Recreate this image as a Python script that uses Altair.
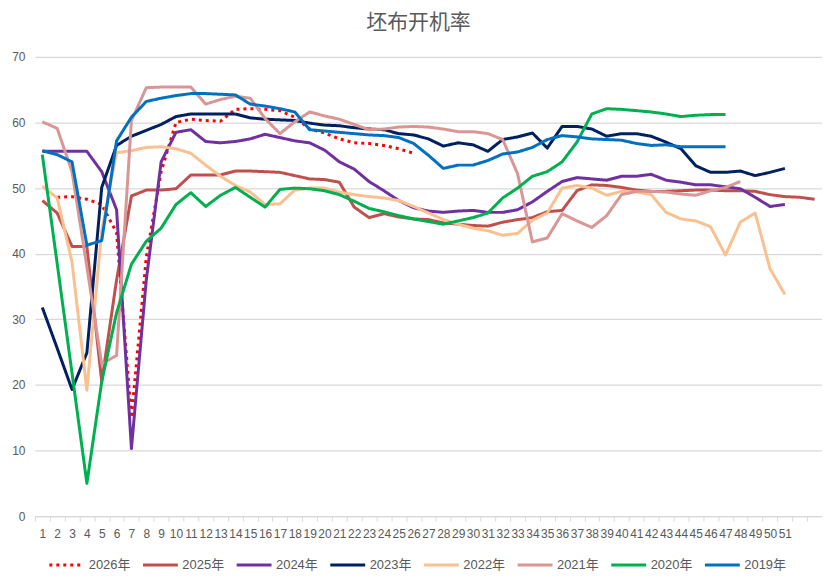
import altair as alt
import pandas as pd

weeks = [str(i) for i in range(1, 54)]
series_names = ["2026年", "2025年", "2024年", "2023年", "2022年", "2021年", "2020年", "2019年"]
colors = ["#FF0000", "#C0504D", "#7030A0", "#002060", "#FAC090", "#D99694", "#00B050", "#0070C0"]

# first week index of each series
start_week = {"2026年": 2, "2025年": 1, "2024年": 1, "2023年": 1,
              "2022年": 1, "2021年": 1, "2020年": 1, "2019年": 1}

v2026 = [48.6, 48.7, 48.3, 47.5, 43.2, 15.0, 39.5, 52.5, 60.0, 60.5, 60.3, 60.2, 62.0,
         62.1, 62.0, 61.8, 60.8, 59.0, 58.4, 57.5, 56.9, 56.8, 56.5, 56.0, 55.3]
v2025 = [48.1, 46.2, 41.1, 41.1, 20.5, 36.0, 48.8, 49.7, 49.7, 49.9, 52.0, 52.0, 52.0,
         52.6, 52.6, 52.5, 52.4, 51.9, 51.4, 51.3, 50.9, 47.1, 45.5, 46.1, 45.6, 45.3,
         45.2, 44.7, 44.5, 44.3, 44.2, 44.8, 45.2, 45.5, 46.4, 46.6, 49.6, 50.5, 50.4,
         50.1, 49.7, 49.5, 49.5, 49.6, 49.7, 49.7, 49.6, 49.6, 49.5, 49.0, 48.7, 48.6, 48.3]
v2024 = [55.6, 55.6, 55.6, 55.6, 52.5, 46.7, 10.3, 36.0, 54.0, 58.5, 58.9, 57.1, 56.9,
         57.1, 57.5, 58.2, 57.7, 57.2, 56.9, 55.8, 54.0, 52.9, 51.0, 49.6, 48.1, 47.0,
         46.5, 46.3, 46.5, 46.6, 46.3, 46.3, 46.7, 47.9, 49.5, 51.0, 51.6, 51.4, 51.2,
         51.8, 51.8, 52.1, 51.2, 50.9, 50.5, 50.5, 50.2, 49.9, 48.6, 47.2, 47.5]
v2023 = [31.8, 25.6, 19.3, 24.9, 50.1, 56.5, 57.9, 58.8, 59.7, 60.9, 61.3, 61.3, 61.3,
         61.3, 60.7, 60.5, 60.4, 60.3, 59.9, 59.6, 59.5, 59.2, 59.0, 58.9, 58.3, 58.1,
         57.5, 56.4, 56.9, 56.6, 55.6, 57.4, 57.8, 58.4, 56.1, 59.4, 59.4, 59.0, 57.9,
         58.3, 58.3, 57.9, 57.0, 56.0, 53.4, 52.4, 52.4, 52.6, 51.9, 52.4, 53.0]
v2022 = [50.3, 48.5, 38.7, 19.2, 43.5, 55.4, 55.7, 56.2, 56.3, 56.0, 55.3, 53.5, 51.8,
         50.4, 49.4, 47.5, 47.6, 49.7, 50.0, 50.0, 49.4, 49.0, 48.7, 48.5, 48.1, 47.2,
         46.2, 45.2, 44.5, 43.9, 43.5, 42.8, 43.1, 45.1, 46.2, 50.0, 50.4, 50.0, 48.9,
         49.5, 49.4, 49.0, 46.3, 45.3, 45.0, 44.1, 39.8, 44.8, 46.2, 37.7, 33.8]
v2021 = [60.1, 59.1, 52.5, 38.0, 23.2, 24.5, 60.3, 65.3, 65.4, 65.4, 65.4, 62.8, 63.5,
         64.0, 63.7, 60.6, 58.3, 60.1, 61.6, 61.0, 60.5, 59.7, 58.9, 59.0, 59.3, 59.4,
         59.3, 59.0, 58.6, 58.6, 58.3, 57.4, 52.2, 41.8, 42.4, 46.1, 45.0, 44.0, 45.8,
         49.0, 49.5, 49.5, 49.4, 49.1, 48.9, 49.6, 50.1, 51.0]
v2020 = [55.1, 38.5, 21.8, 5.0, 20.5, 31.0, 38.4, 41.9, 43.9, 47.5, 49.3, 47.2, 48.9,
         50.1, 48.6, 47.1, 49.8, 50.0, 49.9, 49.6, 49.0, 48.0, 46.9, 46.4, 45.8, 45.3,
         44.9, 44.5, 45.0, 45.5, 46.2, 48.5, 50.0, 51.8, 52.5, 54.0, 57.0, 61.3, 62.1,
         62.0, 61.8, 61.6, 61.3, 60.9, 61.1, 61.2, 61.2]
v2019 = [55.7, 55.1, 54.0, 41.3, 42.0, 57.2, 60.8, 63.2, 63.7, 64.1, 64.4, 64.4, 64.3,
         64.2, 62.8, 62.5, 62.1, 61.6, 58.9, 58.7, 58.5, 58.3, 58.1, 58.0, 57.7, 56.8,
         55.0, 53.0, 53.5, 53.5, 54.2, 55.2, 55.5, 56.2, 57.4, 58.0, 57.8, 57.5, 57.4,
         57.3, 56.8, 56.5, 56.6, 56.3, 56.3, 56.3, 56.3]

values = {"2026年": v2026, "2025年": v2025, "2024年": v2024, "2023年": v2023,
          "2022年": v2022, "2021年": v2021, "2020年": v2020, "2019年": v2019}

rows = []
for s in series_names:
    for k, v in enumerate(values[s]):
        rows.append({"series": s, "week": str(start_week[s] + k), "value": v})
df = pd.DataFrame(rows)

dashes = [[3, 4]] + [[1, 0]] * 7

legend = alt.Legend(
    title=None, orient="none", direction="horizontal", columns=8,
    legendX=13, legendY=491,
    symbolType="stroke", symbolSize=1225, symbolStrokeWidth=3,
    labelFontSize=13, labelColor="#595959", labelFont="Liberation Sans, Noto Sans CJK SC",
    labelOffset=3, columnPadding=6,
)

x_enc = alt.X(
    "week:O", sort=weeks, bandPosition=0.5,
    scale=alt.Scale(domain=weeks, type="band", paddingInner=0, paddingOuter=0),
    axis=alt.Axis(
        title=None, labelAngle=0, labelOverlap=False, tickBand="extent",
        labelExpr="toNumber(datum.value) > 51 ? '' : datum.label",
        labelFontSize=12, labelColor="#595959", labelFont="Liberation Sans",
        labelPadding=7, tickSize=5, tickColor="#D9D9D9", domainColor="#D9D9D9",
        domainWidth=1.3, grid=False,
    ),
)
y_enc = alt.Y(
    "value:Q",
    scale=alt.Scale(domain=[0, 70], nice=False, zero=True),
    axis=alt.Axis(
        title=None, values=[0, 10, 20, 30, 40, 50, 60, 70], grid=True,
        gridColor="#D9D9D9", gridWidth=1.3, domain=False, ticks=False,
        labelFontSize=12, labelColor="#595959", labelFont="Liberation Sans",
        labelPadding=10,
    ),
)
color_enc = alt.Color("series:N", scale=alt.Scale(domain=series_names, range=colors), legend=legend)
dash_enc = alt.StrokeDash("series:N", scale=alt.Scale(domain=series_names, range=dashes), legend=legend)

layers = []
for s in series_names:
    layers.append(
        alt.Chart(df)
        .transform_filter(alt.datum.series == s)
        .mark_line(strokeWidth=3, strokeJoin="round")
        .encode(x=x_enc, y=y_enc, color=color_enc, strokeDash=dash_enc)
    )

chart = (
    alt.layer(*layers)
    .properties(
        width=790, height=461,
        title=alt.TitleParams("坯布开机率", fontSize=21, font="Liberation Sans, Noto Sans CJK SC",
                              fontWeight="normal", color="#595959", anchor="middle",
                              dx=-10, offset=18),
        autosize=alt.AutoSizeParams(type="none"),
        padding={"left": 27, "top": 48, "right": 0, "bottom": 57},
    )
    .configure_view(stroke=None)
)

chart.save("out.html", embed_options={"renderer": "svg", "actions": False})
